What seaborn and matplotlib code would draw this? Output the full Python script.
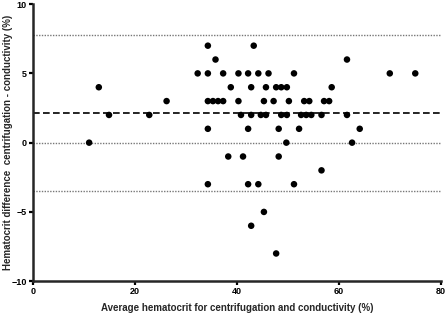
import matplotlib
matplotlib.use("Agg")
import matplotlib.pyplot as plt
import seaborn as sns
import pandas as pd

# Bland-Altman data
avg_hct = [11.0, 12.9, 14.9, 22.8, 26.2,
           34.3, 43.3,
           35.8, 61.6,
           32.3, 34.3, 37.3, 40.3, 42.2, 44.2, 46.2, 51.2, 70.0, 75.0,
           38.8, 42.8, 45.7, 47.7, 48.7, 49.8, 58.6,
           34.3, 35.3, 36.3, 37.3, 40.3, 45.3, 47.2, 50.2, 53.2, 54.2, 57.1, 58.1,
           40.8, 42.8, 44.7, 45.7, 48.7, 49.8, 52.6, 53.6, 54.6, 56.6, 61.6,
           34.3, 42.2, 48.2, 52.2, 64.1,
           49.7, 62.6,
           38.3, 41.2, 48.2,
           56.6,
           34.3, 42.2, 44.2, 51.2,
           45.3, 42.8, 47.7]
diff_hct = [0, 4, 2, 2, 3,
            7, 7,
            6, 6,
            5, 5, 5, 5, 5, 5, 5, 5, 5, 5,
            4, 4, 4, 4, 4, 4, 4,
            3, 3, 3, 3, 3, 3, 3, 3, 3, 3, 3, 3,
            2, 2, 2, 2, 2, 2, 2, 2, 2, 2, 2,
            1, 1, 1, 1, 1,
            0, 0,
            -1, -1, -1,
            -2,
            -3, -3, -3, -3,
            -5, -6, -8]

bias = 2.14
upper_loa = 7.8
lower_loa = -3.5
zero_line = 0

df = pd.DataFrame({"avg": avg_hct, "diff": diff_hct})

sns.set_style("ticks")
plt.rcParams["font.family"] = ["Liberation Sans", "DejaVu Sans"]
plt.rcParams["font.weight"] = "bold"

fig = plt.figure(figsize=(4.47, 3.17), dpi=100)
ax = fig.add_axes([0.074, 0.113, 0.912, 0.874])

for yv in [upper_loa, zero_line, lower_loa]:
    ax.plot([0, 80], [yv, yv], color="#777777", linestyle=(0, (1, 1)), linewidth=1.0, zorder=1)
ax.plot([0, 80], [bias, bias], color="black", linestyle=(0, (4, 2)), linewidth=1.2, zorder=1)

sns.scatterplot(data=df, x="avg", y="diff", ax=ax, color="black", s=22,
                edgecolor="none", zorder=3)

ax.set_xlim(0, 80)
ax.set_ylim(-10, 10)
ax.set_xticks([0, 20, 40, 60, 80])
ax.set_yticks([-10, -5, 0, 5, 10])
sns.despine(ax=ax)
for sp in ["left", "bottom"]:
    ax.spines[sp].set_linewidth(1.8)
ax.tick_params(width=1.6, length=3, pad=1.5, labelsize=6.5, colors="black")
for lab in ax.get_xticklabels() + ax.get_yticklabels():
    lab.set_fontweight("bold")

ax.set_xlabel("Average hematocrit for centrifugation and conductivity (%)",
              fontsize=7, fontweight="bold", labelpad=5)
ax.set_ylabel("Hematocrit difference  centrifugation - conductivity (%)",
              fontsize=7, fontweight="bold")
ax.yaxis.set_label_coords(-0.05, 0.5)

fig.savefig("out.png", dpi=100)
